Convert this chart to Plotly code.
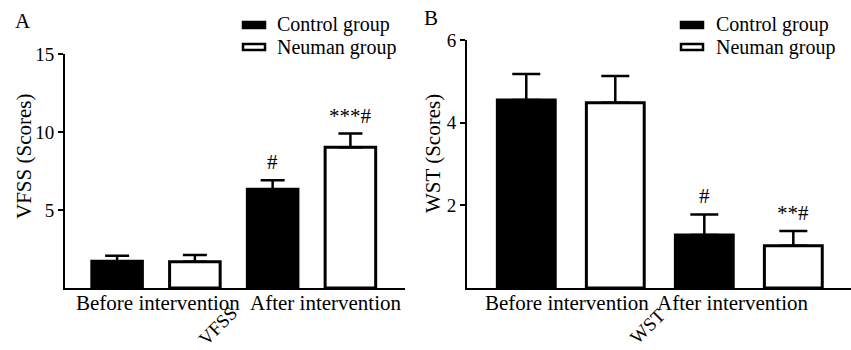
import plotly.graph_objects as go

# ---- data ----
categories = ["Before intervention", "After intervention"]

vfss_control = [1.72, 6.33]
vfss_control_err = [0.34, 0.57]
vfss_neuman = [1.68, 9.02]
vfss_neuman_err = [0.44, 0.88]
vfss_control_marks = ["", "#"]
vfss_neuman_marks = ["", "***#"]

wst_control = [4.55, 1.28]
wst_control_err = [0.63, 0.50]
wst_neuman = [4.48, 1.02]
wst_neuman_err = [0.65, 0.36]
wst_control_marks = ["", "#"]
wst_neuman_marks = ["", "**#"]

vfss_ticks = [5, 10, 15]
wst_ticks = [2, 4, 6]

series_names = ["Control group", "Neuman group"]

FONT = "Liberation Serif, serif"
W, H = 851, 350


def px(x):
    return x / W


def py(y):
    return 1 - y / H


fig = go.Figure()

panels = [
    dict(xa="x", ya="y", ctrl=vfss_control, ce=vfss_control_err, neu=vfss_neuman, ne=vfss_neuman_err,
         cm=vfss_control_marks, nm=vfss_neuman_marks, cap=12),
    dict(xa="x2", ya="y2", ctrl=wst_control, ce=wst_control_err, neu=wst_neuman, ne=wst_neuman_err,
         cm=wst_control_marks, nm=wst_neuman_marks, cap=14),
]

for p in panels:
    for vals, errs, fill, name in [(p["ctrl"], p["ce"], "black", series_names[0]),
                                   (p["neu"], p["ne"], "white", series_names[1])]:
        fig.add_trace(go.Bar(
            x=categories, y=vals, name=name, xaxis=p["xa"], yaxis=p["ya"],
            marker=dict(color=fill, line=dict(color="black", width=3)),
            error_y=dict(type="data", array=errs, arrayminus=[0] * len(errs), symmetric=False,
                         color="black", thickness=2.5, width=p["cap"]),
            showlegend=False, hoverinfo="skip",
        ))
    # significance marks
    for i, cat in enumerate(categories):
        for off, vals, errs, marks in [(-0.25, p["ctrl"], p["ce"], p["cm"]),
                                       (0.25, p["neu"], p["ne"], p["nm"])]:
            if marks[i]:
                fig.add_annotation(x=i + off, y=vals[i] + errs[i], xref=p["xa"], yref=p["ya"],
                                   text=marks[i], showarrow=False, yanchor="bottom", yshift=4,
                                   font=dict(family=FONT, size=21, color="black"))

axis_common = dict(showline=True, linecolor="black", linewidth=2, showgrid=False, zeroline=False,
                   automargin=False)

fig.update_layout(
    width=W, height=H, autosize=False,
    margin=dict(l=0, r=0, t=0, b=0, pad=0),
    paper_bgcolor="white", plot_bgcolor="white",
    barmode="group", bargap=0.0, bargroupgap=0.35,
    font=dict(family=FONT, color="black"),
    xaxis=dict(domain=[px(65), px(405)], range=[-0.585, 1.601], type="category",
               showticklabels=False, ticks="", anchor="y", **axis_common),
    yaxis=dict(domain=[py(288), py(54)], range=[0, 15], tickvals=vfss_ticks, ticks="outside",
               ticklen=5, tickwidth=2, tickcolor="black", anchor="x",
               tickfont=dict(family=FONT, size=19, color="black"), **axis_common),
    xaxis2=dict(domain=[px(467), px(851)], range=[-0.583, 1.574], type="category",
                showticklabels=False, ticks="", anchor="y2", **axis_common),
    yaxis2=dict(domain=[py(288), py(40)], range=[0, 6], tickvals=wst_ticks, ticks="outside",
                ticklen=5, tickwidth=2, tickcolor="black", anchor="x2",
                tickfont=dict(family=FONT, size=19, color="black"), **axis_common),
)

# category labels (shifted like the original)
label_shifts = [(("x", "y"), [2, 14]), (("x2", "y2"), [-4, -16])]
for (xa, ya), shifts in label_shifts:
    for i, cat in enumerate(categories):
        fig.add_annotation(x=cat, y=0, xref=xa, yref=ya, text=cat, showarrow=False,
                           yanchor="top", yshift=-1, xshift=shifts[i],
                           font=dict(family=FONT, size=21, color="black"))


def paper_text(x, y, text, size, angle=0, xanchor="center"):
    fig.add_annotation(x=px(x), y=py(y), xref="paper", yref="paper", text=text,
                       textangle=angle, showarrow=False, xanchor=xanchor, yanchor="middle",
                       borderpad=0, font=dict(family=FONT, size=size, color="black"))


# y-axis titles
paper_text(24, 157, "VFSS (Scores)", 21, -90)
paper_text(433, 154, "WST (Scores)", 21, -90)

# rotated x titles
paper_text(217, 326, "VFSS", 19, -45)
paper_text(647, 326, "WST", 19, -45)

# panel letters
paper_text(23, 21, "A", 21)
paper_text(431, 18, "B", 21)

# legends (drawn as shapes + text)
for lx, tx in [(242, 276), (680, 715)]:
    for j, (name, fill, cy) in enumerate([(series_names[0], "black", 25), (series_names[1], "white", 47)]):
        fig.add_shape(type="rect", xref="paper", yref="paper",
                      x0=px(lx + 1), x1=px(lx + 23), y0=py(cy + 3), y1=py(cy - 3),
                      fillcolor=fill, line=dict(color="black", width=2.5))
        paper_text(tx, cy, name, 20, xanchor="left")

fig.write_html("out.html", config={"displayModeBar": False},
               post_script="document.body.style.margin='0';document.body.style.overflow='hidden';")
